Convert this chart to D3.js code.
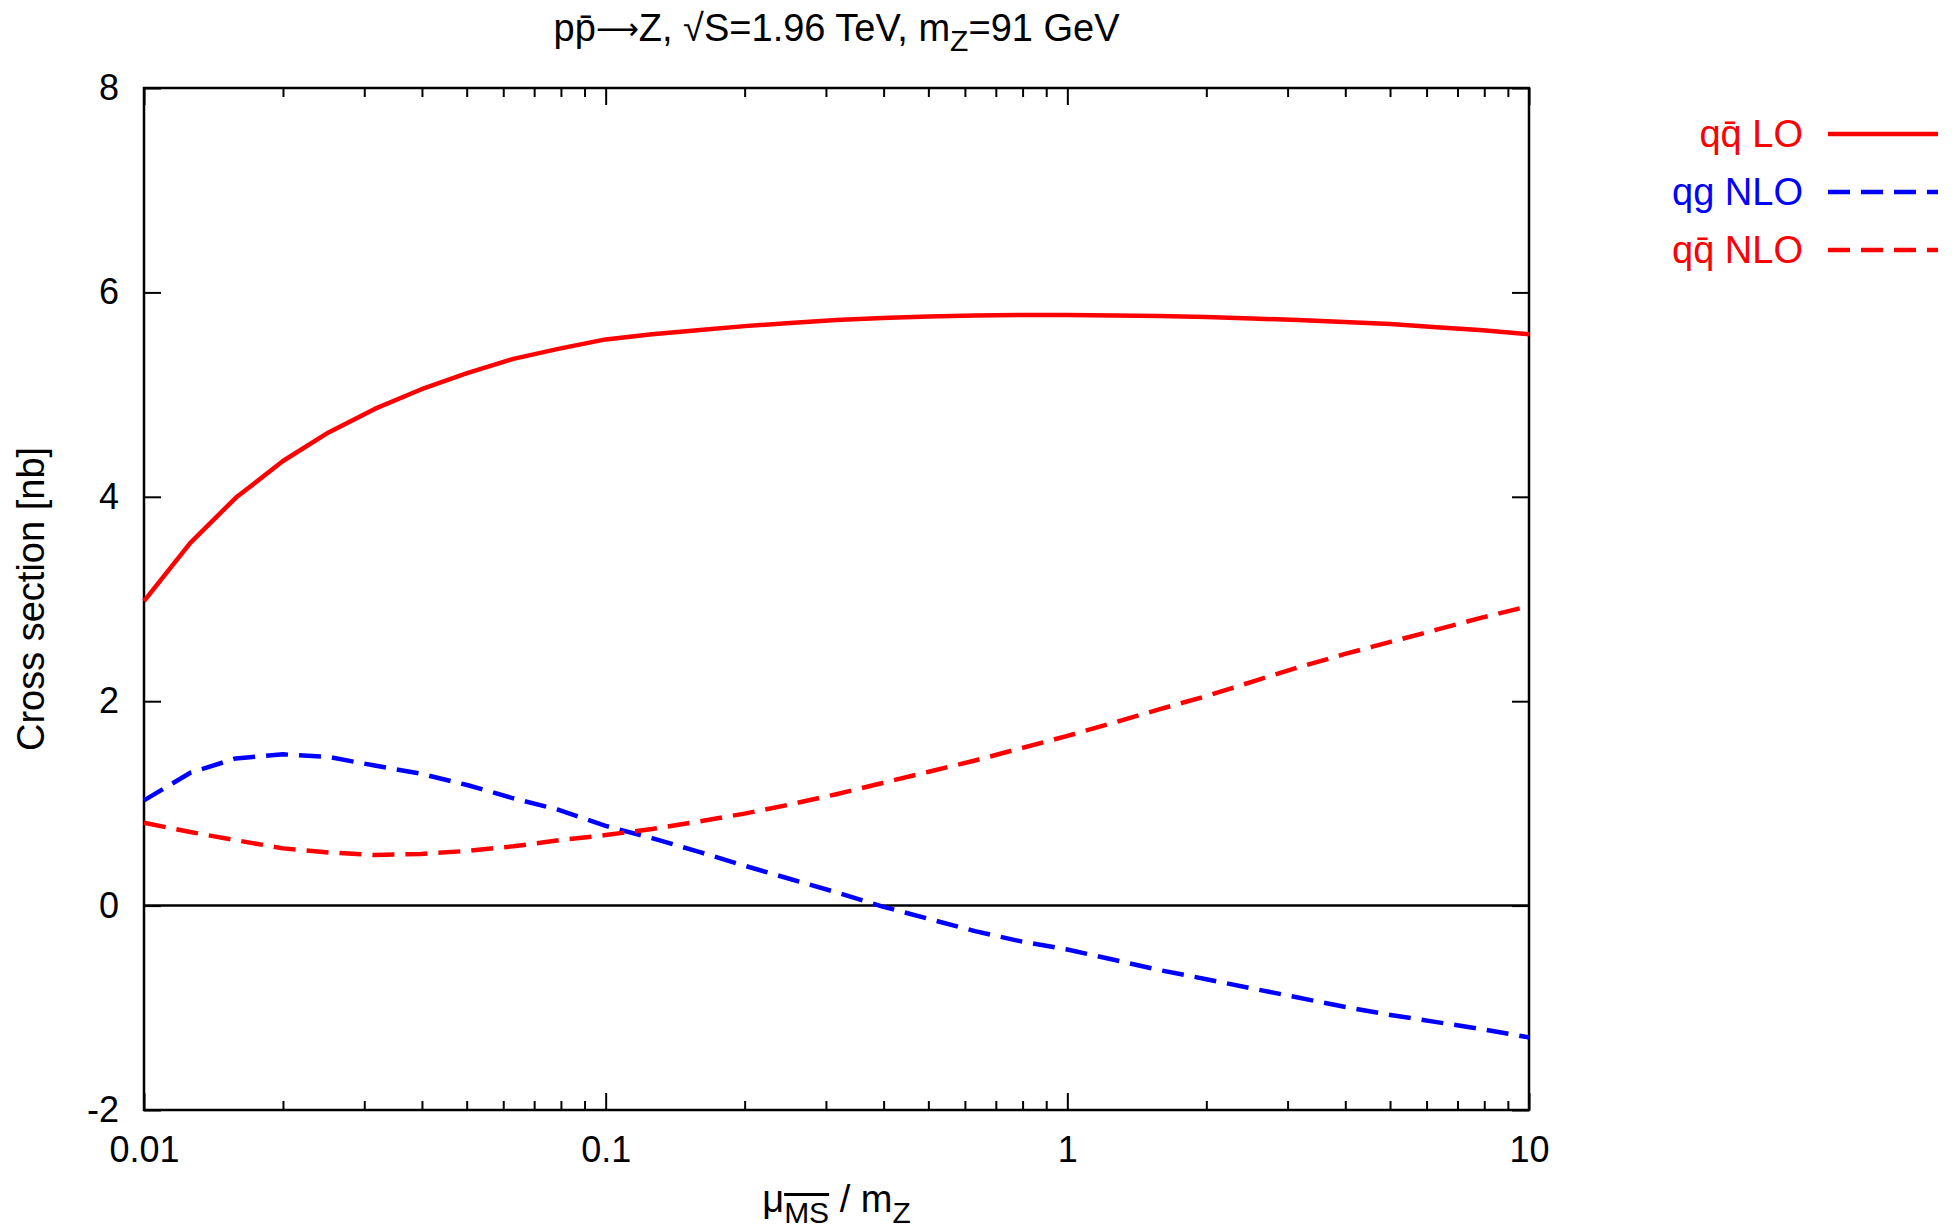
<!DOCTYPE html>
<html>
<head>
<meta charset="utf-8">
<script src="https://cdn.jsdelivr.net/npm/d3@7"></script>
<style>
  html, body { margin: 0; padding: 0; background: #fff; }
  svg text { font-family: "Liberation Sans", Arial, Helvetica, sans-serif; }
</style>
</head>
<body>
<svg id="chart" width="1955" height="1228"></svg>
<script>
// Scale ratio mu / m_Z, sampled ten points per decade
const muRatio = [
  0.01, 0.0126, 0.0158, 0.02, 0.0251, 0.0316, 0.0398, 0.0501, 0.0631, 0.0794,
  0.1, 0.126, 0.158, 0.2, 0.251, 0.316, 0.398, 0.501, 0.631, 0.794,
  1, 1.26, 1.58, 2, 2.51, 3.16, 3.98, 5.01, 6.31, 7.94, 10
];

// Cross sections [nb]
const qqbarLO = [
  2.98, 3.55, 3.99, 4.35, 4.63, 4.86, 5.05, 5.21, 5.35, 5.45,
  5.54, 5.59, 5.63, 5.67, 5.70, 5.73, 5.75, 5.765, 5.775, 5.78,
  5.78, 5.775, 5.77, 5.76, 5.745, 5.73, 5.71, 5.69, 5.66, 5.63, 5.59
];
const qgNLO = [
  1.03, 1.30, 1.44, 1.48, 1.455, 1.37, 1.29, 1.18, 1.05, 0.935,
  0.78, 0.66, 0.53, 0.39, 0.26, 0.13, -0.01, -0.13, -0.25, -0.35,
  -0.43, -0.53, -0.63, -0.72, -0.81, -0.90, -0.99, -1.07, -1.14, -1.21, -1.29
];
const qqbarNLO = [
  0.81, 0.72, 0.64, 0.56, 0.52, 0.495, 0.505, 0.535, 0.58, 0.64,
  0.69, 0.75, 0.82, 0.90, 0.99, 1.09, 1.20, 1.31, 1.42, 1.54,
  1.66, 1.79, 1.92, 2.05, 2.19, 2.33, 2.46, 2.58, 2.70, 2.82, 2.93
];

const xMajorTicks = [0.01, 0.1, 1, 10];
const xTickLabels = ["0.01", "0.1", "1", "10"];
const yTicks = [-2, 0, 2, 4, 6, 8];
const yTickLabels = ["-2", "0", "2", "4", "6", "8"];

const series = [
  { name: "LO",  prefix: "qq\u0304 ", values: qqbarLO,  color: "#ff0000", dashed: false },
  { name: "NLO", prefix: "qg ",       values: qgNLO,    color: "#0000ff", dashed: true },
  { name: "NLO", prefix: "qq\u0304 ", values: qqbarNLO, color: "#ff0000", dashed: true }
];

const svg = d3.select("#chart");
const W = 1955, H = 1228;
const plot = { left: 144, right: 1529, top: 88, bottom: 1110 };
const TICK_FS = 36;   // tick labels
const FS = 38;        // title, axis labels, legend
const SUB_FS = 30;    // subscripts

svg.append("rect").attr("width", W).attr("height", H).attr("fill", "#fff");

const x = d3.scaleLog().domain([0.01, 10]).range([plot.left, plot.right]);
const y = d3.scaleLinear().domain([-2, 8]).range([plot.bottom, plot.top]);

// minor log ticks 2..9 in every decade
const xMinorTicks = [];
[0.01, 0.1, 1].forEach(d => { for (let k = 2; k <= 9; k++) xMinorTicks.push(+(d * k).toPrecision(3)); });

function styleAxis(g) {
  g.select(".domain").remove();
  g.selectAll(".tick line").attr("stroke", "#000").attr("stroke-width", 2);
  g.selectAll(".tick text").attr("font-size", TICK_FS).attr("fill", "#000")
    .style("font-family", '"Liberation Sans", Arial, sans-serif');
}

// bottom axis
svg.append("g").attr("transform", `translate(0,${plot.bottom})`)
  .call(d3.axisBottom(x).tickValues(xMajorTicks)
    .tickFormat((d, i) => xTickLabels[i]).tickSize(-17).tickPadding(26))
  .call(styleAxis);
svg.append("g").attr("transform", `translate(0,${plot.bottom})`)
  .call(d3.axisBottom(x).tickValues(xMinorTicks).tickFormat("").tickSize(-9))
  .call(styleAxis);
// top axis (mirrored ticks)
svg.append("g").attr("transform", `translate(0,${plot.top})`)
  .call(d3.axisTop(x).tickValues(xMajorTicks).tickFormat("").tickSize(-17))
  .call(styleAxis);
svg.append("g").attr("transform", `translate(0,${plot.top})`)
  .call(d3.axisTop(x).tickValues(xMinorTicks).tickFormat("").tickSize(-9))
  .call(styleAxis);
// left axis
svg.append("g").attr("transform", `translate(${plot.left},0)`)
  .call(d3.axisLeft(y).tickValues(yTicks).tickFormat((d, i) => yTickLabels[i])
    .tickSize(-17).tickPadding(25))
  .call(styleAxis);
// right axis (mirrored ticks)
svg.append("g").attr("transform", `translate(${plot.right},0)`)
  .call(d3.axisRight(y).tickValues(yTicks).tickFormat("").tickSize(-17))
  .call(styleAxis);

// zero line
svg.append("line")
  .attr("x1", plot.left).attr("x2", plot.right)
  .attr("y1", y(0)).attr("y2", y(0))
  .attr("stroke", "#000").attr("stroke-width", 2.5);

// frame
svg.append("rect")
  .attr("x", plot.left).attr("y", plot.top)
  .attr("width", plot.right - plot.left).attr("height", plot.bottom - plot.top)
  .attr("fill", "none").attr("stroke", "#000").attr("stroke-width", 2.5);

// curves
const line = d3.line().x((d, i) => x(muRatio[i])).y(d => y(d));
series.forEach(s => {
  svg.append("path")
    .datum(s.values)
    .attr("d", line)
    .attr("fill", "none")
    .attr("stroke", s.color)
    .attr("stroke-width", 4.5)
    .attr("stroke-linejoin", "round")
    .attr("stroke-dasharray", s.dashed ? "22,11" : null);
});

// legend
const legendRows = [134, 192, 250];
series.forEach((s, i) => {
  const ly = legendRows[i];
  svg.append("text")
    .attr("x", 1803).attr("y", ly + 13)
    .attr("text-anchor", "end")
    .attr("font-size", FS).attr("fill", s.color)
    .text(s.prefix + s.name);
  svg.append("line")
    .attr("x1", 1828).attr("x2", 1938)
    .attr("y1", ly).attr("y2", ly)
    .attr("stroke", s.color).attr("stroke-width", 4.5)
    .attr("stroke-dasharray", s.dashed ? "22,11" : null);
});

// title
const title = svg.append("text")
  .attr("x", (plot.left + plot.right) / 2).attr("y", 41)
  .attr("text-anchor", "middle").attr("font-size", FS).attr("fill", "#000");
title.append("tspan").text("pp\u0304");
title.append("tspan").style("font-family", '"DejaVu Sans", sans-serif')
  .attr("font-size", 30).attr("dy", -2)
  .text("\u27F6");
title.append("tspan").attr("dy", 2).text("Z, \u221AS=1.96 TeV, m");
title.append("tspan").attr("font-size", SUB_FS).attr("dy", 10).text("Z");
title.append("tspan").attr("dy", -10).text("=91 GeV");

// y-axis label
svg.append("text")
  .attr("transform", `translate(44,${(plot.top + plot.bottom) / 2}) rotate(-90)`)
  .attr("text-anchor", "middle").attr("font-size", FS).attr("fill", "#000")
  .text("Cross section [nb]");

// x-axis label
const xl = svg.append("text")
  .attr("x", (plot.left + plot.right) / 2).attr("y", 1212)
  .attr("text-anchor", "middle").attr("font-size", FS).attr("fill", "#000");
xl.append("tspan").text("\u03BC");
xl.append("tspan").attr("font-size", SUB_FS).attr("dy", 11)
  .attr("text-decoration", "overline").text("MS");
xl.append("tspan").attr("dy", -11).text(" / m");
xl.append("tspan").attr("font-size", SUB_FS).attr("dy", 11).text("Z");
</script>
</body>
</html>
